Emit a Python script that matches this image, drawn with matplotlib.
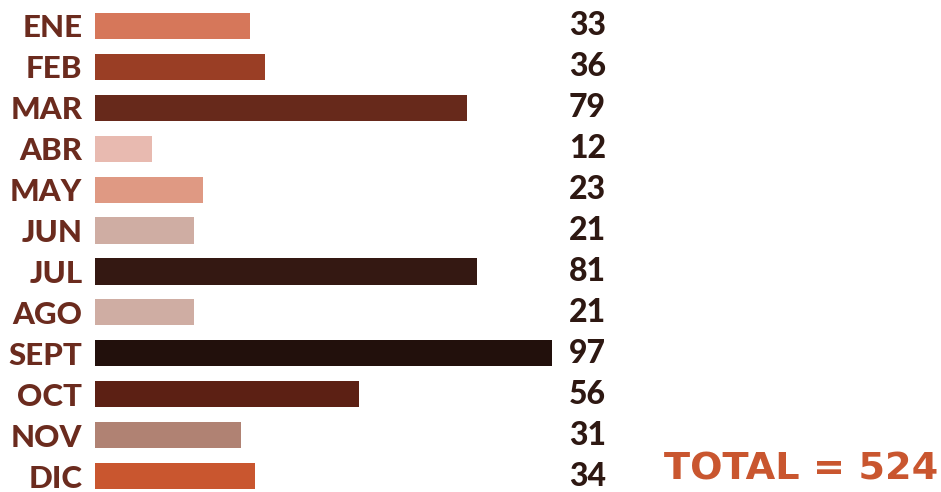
import matplotlib.pyplot as plt
from matplotlib import transforms

months = ['ENE', 'FEB', 'MAR', 'ABR', 'MAY', 'JUN', 'JUL', 'AGO', 'SEPT', 'OCT', 'NOV', 'DIC']
values = [33, 36, 79, 12, 23, 21, 81, 21, 97, 56, 31, 34]
colors = ['#D6775A', '#9A3E25', '#67291B', '#E8BAB0', '#DF9983', '#CFADA3',
          '#341812', '#CFADA3', '#22100C', '#5C2014', '#B08273', '#C9562F']
total = sum(values)

plt.rcParams['font.family'] = ['Lato', 'DejaVu Sans']

W, H = 941, 492
fig = plt.figure(figsize=(W / 100, H / 100), dpi=100)
ax = fig.add_axes([95 / W, -4.5 / H, 457 / W, 491 / H])

pos = list(range(len(months)))
ax.barh(pos, values, height=0.64, color=colors)
ax.set_xlim(0, max(values))
ax.set_ylim(11.5, -0.5)

ax.set_yticks(pos)
ax.set_yticklabels(months, fontsize=22.5, fontweight='black', color='#6B2B1E')
ax.tick_params(axis='y', length=0, pad=9)
ax.set_xticks([])
for s in ax.spines.values():
    s.set_visible(False)

# value labels at fixed x in figure coords
trans = transforms.blended_transform_factory(fig.transFigure, ax.transData)
for p, v in zip(pos, values):
    ax.text(569 / W, p, str(v), transform=trans, ha='left', va='center',
            fontsize=23, fontweight='black', color='#2E1812', clip_on=False)

fig.text(938 / W, 1 - 469 / H, f'TOTAL = {total}', ha='right', va='center',
         fontsize=27.5, fontweight='bold', family='DejaVu Sans', color='#C9562F')

fig.savefig('out.png', dpi=100)
